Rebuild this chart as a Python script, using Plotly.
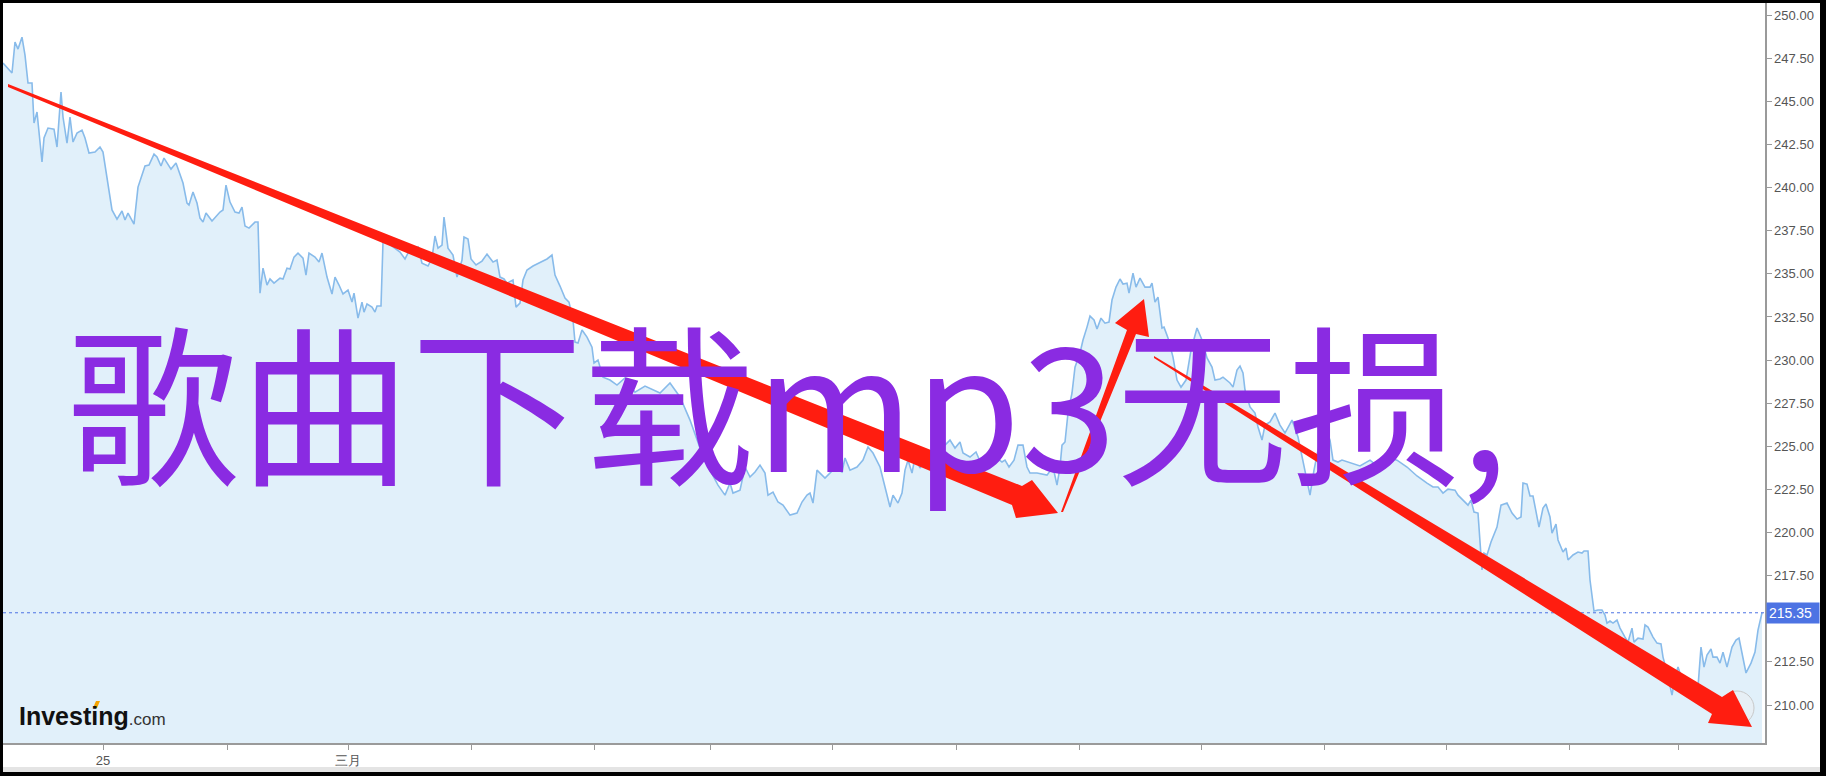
import plotly.graph_objects as go

# ---------------- data ----------------
bar = [
    3, 12, 15, 18, 22, 25, 28, 32, 34, 37,
    42, 44, 48, 54, 57, 61, 63, 67, 70, 73,
    77, 82, 85, 89, 95, 100, 103, 108, 112, 117,
    122, 125, 128, 134, 138, 145, 149, 154, 157, 161,
    164, 171, 176, 183, 187, 189, 193, 197, 200, 203,
    206, 212, 220, 223, 226, 230, 235, 239, 242, 245,
    249, 255, 258, 260, 263, 267, 270, 274, 280, 283,
    287, 290, 294, 298, 303, 306, 309, 315, 319, 322,
    327, 332, 335, 339, 343, 348, 352, 354, 358, 362,
    364, 367, 372, 375, 377, 381, 383, 388, 400, 405,
    408, 418, 422, 428, 432, 435, 438, 442, 444, 448,
    453, 457, 462, 464, 468, 471, 476, 482, 487, 493,
    497, 500, 504, 507, 513, 516, 520, 523, 527, 533,
    540, 547, 552, 555, 560, 565, 569, 573, 575, 578,
    582, 587, 592, 594, 598, 603, 610, 617, 625, 635,
    645, 653, 660, 670, 680, 690, 700, 710, 718, 725,
    730, 733, 740, 745, 750, 755, 760, 765, 768, 773,
    778, 783, 790, 797, 802, 807, 810, 813, 817, 825,
    835, 842, 845, 850, 857, 863, 868, 873, 880, 885,
    890, 893, 898, 902, 905, 908, 912, 915, 920, 928,
    935, 943, 950, 955, 960, 963, 970, 976, 983, 990,
    997, 1002, 1005, 1009, 1014, 1018, 1023, 1027, 1030, 1037,
    1047, 1053, 1057, 1060, 1062, 1065, 1068, 1072, 1075, 1080,
    1083, 1087, 1090, 1094, 1097, 1101, 1105, 1109, 1112, 1116,
    1120, 1123, 1127, 1129, 1133, 1136, 1140, 1145, 1150, 1152,
    1155, 1158, 1162, 1164, 1168, 1173, 1177, 1181, 1186, 1191,
    1197, 1202, 1207, 1212, 1215, 1220, 1223, 1230, 1233, 1237,
    1240, 1243, 1245, 1250, 1255, 1258, 1262, 1265, 1270, 1275,
    1280, 1285, 1292, 1298, 1302, 1306, 1310, 1314, 1320, 1325,
    1330, 1333, 1338, 1342, 1350, 1360, 1370, 1380, 1390, 1397,
    1407, 1417, 1427, 1433, 1438, 1443, 1448, 1455, 1458, 1463,
    1468, 1471, 1474, 1478, 1482, 1484, 1487, 1491, 1497, 1501,
    1507, 1512, 1517, 1521, 1523, 1527, 1530, 1533, 1539, 1543,
    1546, 1550, 1552, 1556, 1558, 1563, 1566, 1568, 1573, 1578,
    1582, 1584, 1588, 1590, 1594, 1598, 1602, 1605, 1607, 1610,
    1613, 1617, 1620, 1625, 1628, 1632, 1634, 1638, 1643, 1645,
    1648, 1653, 1657, 1661, 1663, 1667, 1672, 1675, 1678, 1684,
    1690, 1697, 1698, 1701, 1704, 1707, 1711, 1713, 1717, 1720,
    1723, 1727, 1732, 1736, 1739, 1743, 1746, 1751, 1755, 1758,
    1762,
]

price = [
    247.22, 246.64, 248.43, 248.03, 248.72, 247.68, 246.06, 246.06, 243.74, 244.38,
    241.48, 242.87, 243.45, 243.39, 242.35, 245.54, 244.09, 242.58, 244.09, 242.64,
    243.16, 243.33, 242.87, 242.00, 242.06, 242.35, 242.06, 240.26, 238.70, 238.17,
    238.64, 238.12, 238.52, 237.88, 240.03, 241.25, 241.30, 241.94, 241.77, 241.25,
    241.71, 241.07, 241.42, 240.26, 239.10, 238.99, 239.74, 239.10, 238.23, 238.00,
    238.52, 238.06, 238.58, 238.70, 240.14, 239.16, 238.58, 238.52, 238.87, 237.77,
    237.65, 238.00, 238.00, 233.88, 235.33, 234.35, 234.70, 234.46, 234.75, 234.70,
    235.33, 235.28, 235.97, 236.20, 235.91, 234.93, 236.20, 235.97, 235.68, 236.20,
    234.81, 233.83, 234.81, 234.35, 233.83, 234.06, 233.36, 233.88, 232.43, 233.36,
    232.78, 233.25, 233.07, 232.78, 233.13, 233.13, 236.84, 236.78, 236.26, 235.86,
    236.20, 236.55, 235.62, 235.45, 235.91, 237.19, 236.49, 236.67, 238.29, 236.49,
    236.09, 234.81, 235.80, 237.13, 237.01, 235.86, 235.51, 235.74, 236.14, 235.68,
    235.80, 234.81, 234.70, 234.46, 234.64, 233.07, 233.30, 234.64, 235.22, 235.45,
    235.68, 235.86, 236.09, 234.93, 234.29, 233.59, 233.36, 232.32, 231.04, 230.99,
    231.74, 231.33, 230.75, 229.83, 230.00, 229.01, 228.84, 228.55, 228.96, 228.14,
    228.49, 228.26, 228.09, 228.67, 227.86, 226.52, 224.90, 223.62, 222.75, 222.17,
    222.87, 222.29, 222.46, 223.80, 223.22, 223.51, 223.91, 223.45, 222.17, 222.35,
    221.77, 221.59, 221.01, 221.13, 221.77, 222.17, 222.29, 221.71, 223.62, 223.16,
    223.74, 223.51, 224.32, 223.62, 223.80, 224.20, 224.96, 224.61, 223.80, 222.64,
    221.48, 222.17, 221.71, 222.29, 223.62, 224.20, 223.45, 224.38, 223.74, 224.49,
    225.07, 224.96, 225.36, 224.90, 225.25, 224.61, 224.38, 224.67, 223.74, 224.03,
    224.32, 224.09, 224.20, 223.80, 224.20, 225.07, 225.07, 223.80, 223.45, 223.45,
    223.33, 223.80, 222.75, 223.80, 225.07, 225.25, 226.93, 228.09, 229.59, 230.41,
    231.16, 231.91, 232.55, 232.32, 231.80, 232.43, 232.14, 232.20, 233.48, 234.23,
    234.70, 234.41, 234.46, 233.88, 235.04, 234.23, 234.75, 234.23, 234.23, 234.46,
    233.36, 233.65, 231.86, 231.91, 231.28, 230.17, 228.84, 228.43, 228.84, 230.58,
    231.86, 231.16, 230.12, 229.59, 228.84, 228.90, 229.01, 228.67, 228.43, 229.42,
    229.65, 229.25, 228.26, 227.28, 226.93, 226.12, 225.36, 226.23, 226.41, 226.93,
    226.23, 225.77, 226.52, 225.54, 224.38, 223.33, 222.17, 223.62, 225.36, 226.12,
    225.36, 224.20, 224.09, 224.20, 224.03, 223.86, 224.20, 223.74, 224.32, 224.20,
    223.80, 223.28, 222.87, 222.64, 222.64, 222.29, 222.52, 222.46, 222.17, 221.88,
    221.59, 221.88, 221.19, 221.13, 217.83, 218.81, 218.70, 219.45, 220.32, 221.59,
    221.71, 221.13, 220.78, 220.90, 222.87, 222.81, 222.12, 222.12, 220.32, 221.42,
    221.65, 220.90, 219.97, 220.49, 219.57, 218.87, 219.10, 218.41, 218.70, 218.87,
    218.81, 218.93, 218.93, 217.25, 215.45, 215.51, 215.51, 215.22, 214.75, 214.87,
    214.75, 214.93, 214.46, 213.94, 213.65, 214.46, 213.65, 213.88, 213.83, 214.64,
    214.52, 213.94, 213.59, 213.54, 212.78, 211.91, 210.58, 211.62, 212.20, 211.16,
    210.58, 210.29, 211.16, 213.36, 212.20, 212.90, 213.25, 212.78, 212.78, 212.43,
    213.07, 212.20, 213.36, 213.77, 213.88, 212.78, 211.86, 212.43, 213.07, 214.35,
    215.35,
]

x_tick_pos = [103, 227, 348, 471, 594, 710, 832, 956, 1079, 1201, 1324, 1446, 1569, 1678]
x_tick_text = ["25", "", "三月", "", "", "", "", "", "", "", "", "", "", ""]
y_tick_vals = [210.0, 212.5, 215.0, 217.5, 220.0, 222.5, 225.0, 227.5, 230.0,
               232.5, 235.0, 237.5, 240.0, 242.5, 245.0, 247.5, 250.0]

title_text = "歌曲下载mp3无损,"
last_price = price[-1]

# ---------------- layout geometry ----------------
W, H = 1826, 776
ML, MR, MT, MB = 3, 61, 3, 33
PW, PH = W - ML - MR, H - MT - MB


def pp(x, y):
    """figure pixel -> paper coords"""
    return (x - ML) / PW, (H - MB - y) / PH


def path(points):
    parts = []
    for i, (x, y) in enumerate(points):
        a, b = pp(x, y)
        parts.append(("M " if i == 0 else "L ") + f"{a:.5f},{b:.5f}")
    return " ".join(parts) + " Z"


def rect(x0, y0, x1, y1, color, layer="above", line=None):
    a0, b0 = pp(x0, y1)
    a1, b1 = pp(x1, y0)
    d = dict(type="rect", xref="paper", yref="paper", x0=a0, y0=b0, x1=a1, y1=b1,
             fillcolor=color, layer=layer, line=dict(width=0))
    if line:
        d["line"] = line
    return d


fig = go.Figure()
fig.add_trace(go.Scatter(
    x=bar, y=price, mode="lines",
    line=dict(color="#88bbea", width=1.6),
    fill="tozeroy", fillcolor="#e1f0fa",
    hoverinfo="skip", showlegend=False,
))

RED = "#ff1d10"
shapes = []
# current price dotted line
shapes.append(dict(type="line", xref="paper", x0=0, x1=1, yref="y", y0=last_price, y1=last_price,
                   line=dict(color="#4d73e3", width=1, dash="dot"), layer="above"))
# zoom icon circle
c0 = pp(1720, 725)
c1 = pp(1754, 691)
shapes.append(dict(type="circle", xref="paper", yref="paper", x0=c0[0], y0=c0[1], x1=c1[0], y1=c1[1],
                   line=dict(color="#c8c8c8", width=1), fillcolor="rgba(235,238,242,0.6)", layer="above"))
# red arrows
arrow1 = [(8, 84), (1022, 486), (1032, 480), (1058, 513), (1016, 518), (1012, 505), (8, 87)]
arrow2 = [(1061, 512), (1127, 330), (1115, 323), (1144, 299), (1149, 337), (1136, 334), (1063, 512)]
arrow3 = [(1154, 356), (1722, 697), (1733, 690), (1752, 727), (1708, 723), (1712, 714), (1154, 358)]
for a in (arrow1, arrow2, arrow3):
    shapes.append(dict(type="path", xref="paper", yref="paper", path=path(a),
                       fillcolor=RED, line=dict(width=0), layer="above"))
# orange dot of the logo
shapes.append(dict(type="path", xref="paper", yref="paper",
                   path=path([(93, 708), (96, 701), (100, 701), (97, 708)]),
                   fillcolor="#f5a300", line=dict(width=0), layer="above"))
# frame
shapes.append(rect(3, 767, 1820, 772, "#e4e4e4"))
shapes.append(rect(-1, -1, 3, 777, "#000000"))
shapes.append(rect(-1, -1, 1827, 3, "#000000"))
shapes.append(rect(1820, -1, 1827, 777, "#000000"))
shapes.append(rect(-1, 772, 1827, 777, "#000000"))

annotations = []
tx, ty = pp(787, 397)
annotations.append(dict(text=title_text, xref="paper", yref="paper", x=tx, y=ty,
                        xanchor="center", yanchor="middle", showarrow=False,
                        font=dict(family="Noto Sans CJK SC", size=172, color="#8a2be2")))
lx, ly = pp(17, 716)
annotations.append(dict(text="<b>Investing</b><span style=\"font-size:17px;color:#333333\">.com</span>",
                        xref="paper", yref="paper", x=lx, y=ly, xanchor="left", yanchor="middle",
                        showarrow=False,
                        font=dict(family="Arial, Liberation Sans, sans-serif", size=25, color="#111111")))
bx, _ = pp(1766, 0)
annotations.append(dict(text=f"{last_price:.2f}", xref="paper", yref="y", x=bx, y=last_price,
                        xanchor="left", yanchor="middle", showarrow=False,
                        bgcolor="#4d73e3", borderpad=2, width=48, height=16, align="left",
                        font=dict(family="Arial, Liberation Sans, sans-serif", size=14, color="#ffffff")))

AX = "#9a9a9a"
fig.update_layout(
    width=W, height=H,
    margin=dict(l=ML, r=MR, t=MT, b=MB, pad=0),
    paper_bgcolor="#ffffff", plot_bgcolor="#ffffff",
    showlegend=False, hovermode=False,
    shapes=shapes, annotations=annotations,
    xaxis=dict(range=[3, 1765], showgrid=False, zeroline=False, showline=True,
               linecolor=AX, linewidth=1.5, ticks="outside", ticklen=5, tickcolor=AX, tickwidth=1,
               tickvals=x_tick_pos, ticktext=x_tick_text,
               tickfont=dict(family="Arial, Liberation Sans, sans-serif", size=13, color="#555555"),
               fixedrange=True),
    yaxis=dict(range=[207.80, 250.70], side="right", showgrid=False, zeroline=False, showline=True,
               linecolor=AX, linewidth=1.5, ticks="outside", ticklen=5, tickcolor=AX, tickwidth=1,
               tickvals=y_tick_vals, tickformat=".2f",
               tickfont=dict(family="Arial, Liberation Sans, sans-serif", size=13, color="#555555"),
               fixedrange=True),
)

fig.write_html("out.html", config={"displayModeBar": False, "staticPlot": True},
               post_script="document.body.style.margin='0';document.body.style.overflow='hidden';")
